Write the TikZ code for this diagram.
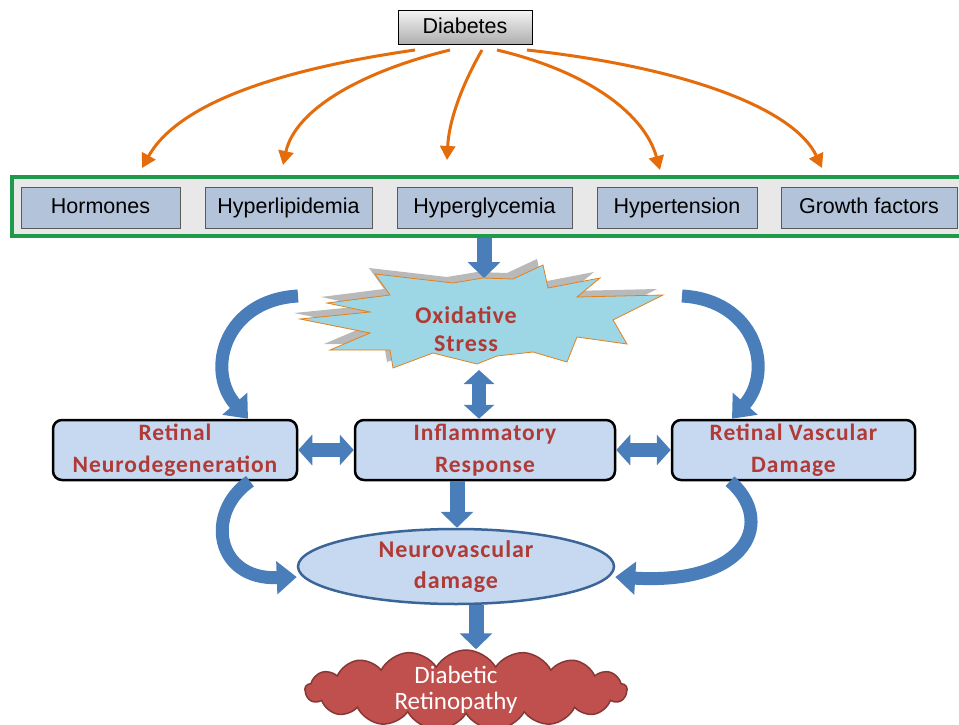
\documentclass[tikz,border=0pt]{standalone}
\usepackage{fontspec}
\setmainfont{Liberation Sans}
\newfontfamily\calb[LetterSpace=4]{Carlito Bold}
\newfontfamily\calr{Carlito}
\usetikzlibrary{arrows.meta,shapes.geometric,shapes.symbols,calc}
\definecolor{orng}{HTML}{E46C0A}
\definecolor{blu}{HTML}{4A7EBB}
\definecolor{lblue}{HTML}{C6D9F1}
\definecolor{steel}{HTML}{B3C3D9}
\definecolor{dred}{HTML}{B03A35}
\definecolor{cyn}{HTML}{9DD7E6}
\definecolor{crim}{HTML}{C0504D}
\definecolor{grn}{HTML}{1E9A4A}
\begin{document}
\begin{tikzpicture}[x=1pt,y=-1pt,
  factor/.style={draw=gray!70!black, line width=0.8pt, fill=steel, minimum height=41pt, inner sep=0pt, text height=15pt, text depth=4pt, font=\fontsize{21.5}{24}\selectfont},
  rbox/.style={draw=black, line width=2.5pt, rounded corners=9pt, fill=lblue, minimum height=60pt, align=center, text=dred, inner sep=0pt, font=\calb\fontsize{23.5}{32}\selectfont},
  oarr/.style={draw=orng, line width=3pt, -{Triangle[length=14pt,width=15pt]}},
  barr/.style={draw=blu, line width=15pt, -{Triangle[length=16pt,width=32pt]}},
  dbarr/.style={draw=blu, line width=14pt, {Triangle[length=14pt,width=30pt]}-{Triangle[length=14pt,width=30pt]}},
  carr/.style={draw=blu, line width=13pt, -{Triangle[length=20pt,width=32pt]}}
]
\useasboundingbox (0,0) rectangle (959,725);
\fill[white] (0,0) rectangle (959,725);

% top
\node[draw=black, line width=1pt, top color=gray!10, bottom color=gray!65, minimum width=134pt, minimum height=34pt, inner sep=0pt, text height=15pt, text depth=4pt, font=\fontsize{21.5}{24}\selectfont] (dia) at (465,28) {Diabetes};

\node[draw=grn, line width=3.5pt, fill=gray!18, minimum width=950pt, minimum height=59pt, inner sep=0pt] (frame) at (487,206.5) {};
\node[factor, minimum width=159pt] (hor) at (100.5,207.5) {Hormones};
\node[factor, minimum width=167pt] (hyl) at (288.5,207.5) {Hyperlipidemia};
\node[factor, minimum width=175pt] (hyg) at (484.5,207.5) {Hyperglycemia};
\node[factor, minimum width=160pt] (hyt) at (677,207.5) {Hypertension};
\node[factor, minimum width=176pt] (grw) at (869,207.5) {Growth factors};

\coordinate (s1) at (415,50); \coordinate (t1) at (142,168);
\coordinate (s2) at (450,50); \coordinate (t2) at (283,165);
\coordinate (s3) at (482,50); \coordinate (t3) at (447,160);
\coordinate (s4) at (497,50); \coordinate (t4) at (660,170);
\coordinate (s5) at (527,50); \coordinate (t5) at (822,168);
\draw[oarr] (s1) .. controls (290,68) and (180,100) .. (t1);
\draw[oarr] (s2) .. controls (360,72) and (295,110) .. (t2);
\draw[oarr] (s3) .. controls (462,85) and (449,120) .. (t3);
\draw[oarr] (s4) .. controls (590,72) and (645,115) .. (t4);
\draw[oarr] (s5) .. controls (690,68) and (795,110) .. (t5);

% starburst
\def\burst{(300,319) -- (370,312) -- (327,303) -- (390,295) -- (375,274) -- (453,283) -- (483,278) -- (513,279) -- (543,265) -- (548,288) -- (600,278) -- (577,297) -- (663,295) -- (613,320) -- (627,344) -- (577,337) -- (567,362) -- (533,352) -- (497,356) -- (477,364) -- (433,353) -- (393,368) -- (390,350) -- (330,350) -- (370,333) -- cycle}
\fill[gray!55, shift={(-6pt,6pt)}] \burst;
\draw[fill=cyn, draw=orange!60!brown, line width=0.8pt] \burst;
\node[align=center, text=dred, inner sep=0pt, font=\calb\fontsize{24}{28}\selectfont] (ox) at (466,329) {Oxidative\\Stress};
\coordinate (oxtop) at (484,278);
\coordinate (oxbot) at (479,370);

\draw[barr] (frame.south -| oxtop) -- (oxtop);

% middle boxes
\node[rbox, minimum width=244pt] (rn) at (175,450) {Retinal\\Neurodegeneration};
\node[rbox, minimum width=260pt] (ir) at (485,450) {Inflammatory\\Response};
\node[rbox, minimum width=243pt] (rv) at (793.5,450) {Retinal Vascular\\Damage};

\draw[dbarr] (oxbot) -- (oxbot |- ir.north);
\draw[dbarr] (rn.east) -- (ir.west);
\draw[dbarr] (ir.east) -- (rv.west);

% curved arrows
\coordinate (ctl) at (298,296);
\coordinate (ctr) at (682,296);
\draw[carr] (ctl) .. controls (225,300) and (205,370) .. (rn.north -| 248,0);
\draw[carr] (ctr) .. controls (755,300) and (775,370) .. (rv.north -| 732,0);

% ellipse
\node[ellipse, draw=blu!80!black, line width=2.5pt, fill=lblue, minimum width=316pt, minimum height=75pt, align=center, text=dred, inner sep=0pt, font=\calb\fontsize{24}{31}\selectfont] (nv) at (456,566.5) {Neurovascular\\damage};

\draw[barr] (ir.south -| 457,0) -- (nv.north -| 457,0);

\draw[carr] (rn.south -| 250,0) .. controls (205,512) and (215,580) .. (nv.west |- 0,577);
\draw[carr] (rv.south -| 730,0) .. controls (775,520) and (750,585) .. (nv.east |- 0,577);

% cloud
\node[cloud, cloud puffs=17, cloud puff arc=120, cloud ignores aspect, draw=crim!70!black, line width=1.5pt, fill=crim, minimum width=322pt, minimum height=80pt, inner sep=0pt] (cl) at (466,690) {};
\node[align=center, text=white, inner sep=0pt, font=\calr\fontsize{25}{26}\selectfont] (dr) at (456,690) {Diabetic\\Retinopathy};

\draw[barr] (nv.south -| 476,0) -- (cl.north -| 476,0);
\end{tikzpicture}
\end{document}
